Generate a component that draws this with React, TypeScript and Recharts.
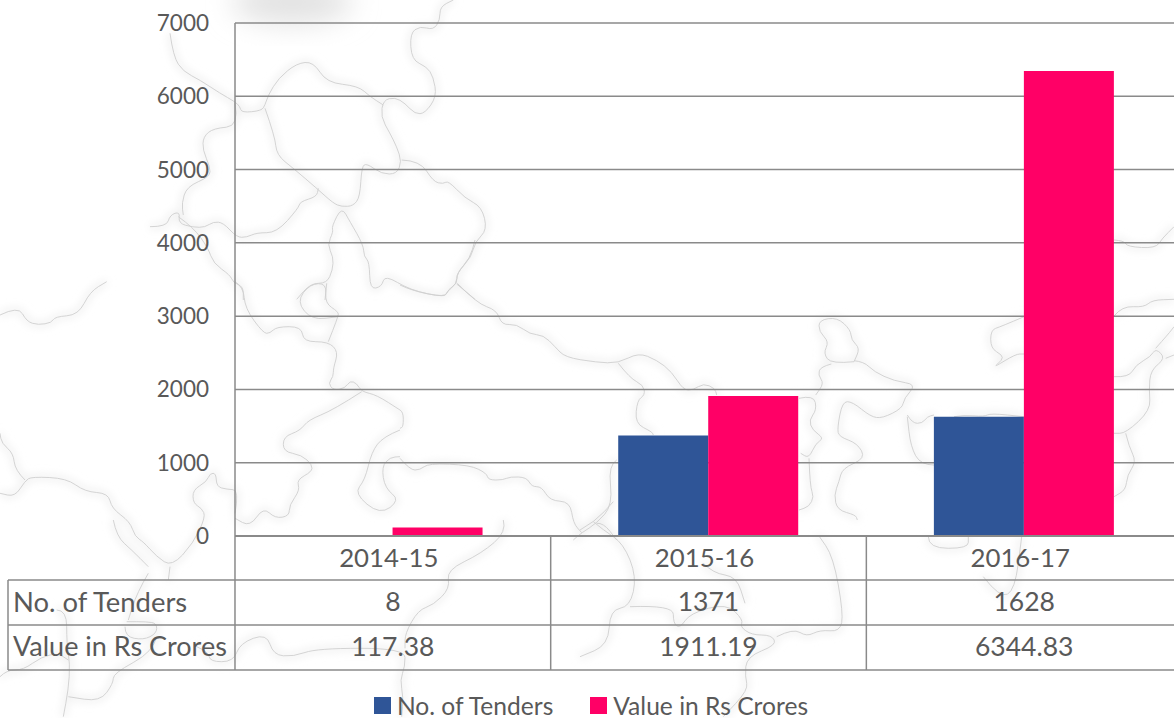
import React from "react";
import { BarChart, Bar, XAxis, YAxis, CartesianGrid, Legend } from "recharts";

const categories = ["2014-15", "2015-16", "2016-17"];
const tenders = [8, 1371, 1628];
const valueCrores = [117.38, 1911.19, 6344.83];
const valueLabels = ["117.38", "1911.19", "6344.83"];
const yTicks = [0, 1000, 2000, 3000, 4000, 5000, 6000, 7000];
const tendersName = "No. of Tenders";
const valueName = "Value in Rs Crores";

const chartData = categories.map((c, i) => ({ category: c, tenders: tenders[i], value: valueCrores[i], valueLabel: valueLabels[i] }));

const FONT = "Lato, Carlito, sans-serif";
const TEXT = "#595959";
const LINE = "#8a8a8a";
const BAND = 315.7;

// Decorative faint map behind the chart; traced in 3x crop coordinates.
const mapLayers: { ox: number; oy: number; lines: string[] }[] = [
  { ox: 150, oy: 0, lines: [
    "0,680 50,680 60,645 90,635 85,670 130,682 165,682 190,665 220,668 260,712 290,712 320,698 380,698 445,625 450,605 500,590 505,565",
    "60,100 70,170 100,215 150,240 210,280 255,305 270,320 275,338 335,332 345,315 355,285 385,235 440,190 490,185 530,248 625,258 660,290 700,315",
    "345,325 375,410 380,465 430,505 500,565 550,610 575,620 610,618 630,590 635,500 650,490 695,522 740,522 755,485 740,440 720,400 692,350 700,300 735,292 765,310 795,342 825,340 860,290 850,230 830,200 785,180 780,100 810,78 850,90 870,60 870,20 910,0",
    "755,480 810,482 850,545 880,552 895,542 945,595 995,620 1012,690 975,725 965,770 920,820 920,852 890,875 885,892 780,870 705,825 695,860 660,868 658,785 642,770 640,735 600,665 575,620 545,680 550,695 532,735 550,770 548,810 530,850 482,850 440,898",
    "255,310 268,378 190,385 160,410 158,450 180,500 180,530 110,560 95,610 100,645",
    "85,650 130,682 175,745 190,790 240,825 250,848 280,860 280,900",
    "920,852 975,898",
    "530,850 525,900",
  ] },
  { ox: 0, oy: 280, lines: [
    "0,105 55,78 80,125 115,135 155,128 165,110 235,105 270,35 320,5",
    "705,5 730,20 735,85 790,160 810,160 830,140 905,140 910,185 985,185 1015,215 1000,265 1000,290 985,310 1000,330 1035,325 1050,302 1070,310 1085,335 1130,345 1200,390",
    "985,185 1015,110 1015,95 975,70 980,10 930,12 890,65 935,120 1015,110",
    "1085,335 1000,390 925,420 900,452 850,470 850,515 905,525 937,555 935,575 890,600 900,630 868,675 868,708 825,715 790,682 750,740 705,715",
    "705,700 718,630 680,628 650,620 648,580 630,580 620,605 578,630 580,670 605,685 617,710 580,790 515,860 470,830 430,785 405,770 390,725 335,685 325,640 255,635 200,595 95,590 75,603 45,650 0,640",
    "75,600 45,570 40,520 5,490 0,460",
    "510,860 505,900",
    "1200,450 1150,470 1115,515 1095,600 1062,640 1140,705 1200,660 1155,625 1145,560 1170,532 1200,530",
  ] },
  { ox: 400, oy: 240, lines: [
    "0,135 35,152 135,172 145,148 172,130 170,100 210,55 225,0",
    "172,130 230,190 290,210 305,255 350,252 390,283 430,285 465,320 495,352 590,367 655,370 715,338 770,360 815,395 850,450 880,450 910,430 945,445 950,465",
    "655,370 690,415 730,435 735,465 712,480 705,550 755,575 760,585",
    "0,655 30,690 60,690 85,670 210,675 260,700 265,720 310,720 330,710 380,712 395,740 425,740 450,782 510,785 520,850 545,878",
    "650,660 625,675 638,795 590,850 545,878 520,900",
    "590,850 610,848 650,900",
    "0,510 10,515 10,560 0,565",
  ] },
  { ox: 774, oy: 220, lines: [
    "75,535 120,525 128,570 105,600 115,630 150,655 125,670 105,715 80,700",
    "105,715 108,800 120,830 105,860 75,870",
    "240,425 172,432 148,400 165,365 135,335 135,300 190,292 230,330 232,360 258,385 240,425",
    "172,432 140,440 132,465 150,490 125,525",
    "240,422 270,425 300,455 360,483 428,493 390,535 385,565 325,595 290,590 235,545 205,545 190,625 195,650 250,670 275,715 205,745 195,785 180,825 190,870 245,885 250,900",
    "400,585 415,610 445,610 460,590 480,585",
    "480,735 440,735 410,680 400,590",
    "540,590 570,585 630,590 650,580 750,590",
    "750,290 680,320 650,330 650,385 685,405 685,420 655,445 725,402 750,402",
    "1020,60 1050,62 1060,80 1145,85 1165,55 1200,20",
    "1020,288 1045,258 1110,262 1135,240 1200,238",
    "1020,470 1065,472 1085,435 1130,410 1145,385 1175,415 1130,450 1125,510 1130,570 1055,640 1020,640",
    "1145,385 1185,340 1200,320",
    "1175,415 1200,405",
    "1055,640 1065,680 1087,725 1060,765 1055,810 1020,830",
  ] },
  { ox: 0, oy: 520, lines: [
    "340,0 350,50 395,90 445,140",
    "445,160 410,220 385,300",
    "375,320 375,350 430,360 470,340 470,310 440,305 380,305",
    "170,270 200,270 200,370 210,430 205,510 190,590",
    "0,470 20,450 70,450 125,410 175,400 205,420",
    "590,380 625,395 630,425 700,425 720,370 800,340 820,405 880,410 950,385 1215,385 1215,440 1200,480 1210,530 1205,590",
    "1510,0 1520,35 1445,100 1340,150 1350,205 1300,255 1255,270 1215,340 1215,385",
    "470,350 460,395 340,460 340,490 300,545 205,530",
  ] },
  { ox: 580, oy: 380, lines: [
    "0,450 45,425 100,365",
    "40,425 70,450 130,490 170,590 150,680 90,690 85,795 0,830",
    "150,680 280,675 280,730 300,745 330,700 440,670 490,720 480,740 515,765 575,765 590,795 500,830 495,890 505,930 430,1010",
    "590,770 640,745 680,770 720,750 780,755 790,700 760,530 715,465",
    "370,550 400,580 470,590 495,670",
    "1045,470 1045,505 1165,505 1165,470",
    "1210,590 1260,655 1305,630 1325,470",
  ] },
];

function toPath(layer: { ox: number; oy: number }, s: string) {
  const pts = s.split(" ").map((p) => {
    const [x, y] = p.split(",").map(Number);
    return [layer.ox + x / 3, layer.oy + y / 3];
  });
  let d = `M${pts[0][0].toFixed(1)} ${pts[0][1].toFixed(1)}`;
  for (let i = 1; i < pts.length - 1; i++) {
    const mx = (pts[i][0] + pts[i + 1][0]) / 2;
    const my = (pts[i][1] + pts[i + 1][1]) / 2;
    d += ` Q${pts[i][0].toFixed(1)} ${pts[i][1].toFixed(1)} ${mx.toFixed(1)} ${my.toFixed(1)}`;
  }
  const last = pts[pts.length - 1];
  d += ` L${last[0].toFixed(1)} ${last[1].toFixed(1)}`;
  return d;
}

function MapBackdrop() {
  return (
    <svg width={1174} height={718} style={{ position: "absolute", left: 0, top: 0 }}>
      <defs>
        <filter id="halo" x="-10%" y="-10%" width="120%" height="120%"><feGaussianBlur stdDeviation="4" /></filter>
        <filter id="cloud" x="-50%" y="-50%" width="200%" height="200%"><feGaussianBlur stdDeviation="14" /></filter>
      </defs>
      <ellipse cx={292} cy={2} rx={60} ry={22} fill="#e2e2e2" filter="url(#cloud)" />
      <g filter="url(#halo)" fill="none" stroke="#eeeeee" strokeWidth={5}>
        {mapLayers.flatMap((l, i) => l.lines.map((s, j) => <path key={`h${i}-${j}`} d={toPath(l, s)} />))}
      </g>
      <g fill="none" stroke="#cfcfcf" strokeWidth={0.9} strokeLinejoin="round">
        {mapLayers.flatMap((l, i) => l.lines.map((s, j) => <path key={`l${i}-${j}`} d={toPath(l, s)} />))}
      </g>
    </svg>
  );
}

function TableTick(props: any) {
  const { x, index, payload } = props;
  const row = chartData[index];
  const left = x - BAND / 2;
  const right = x + BAND / 2;
  const textProps = { fontFamily: FONT, fontSize: 26.5, fill: TEXT, textAnchor: "middle" as const, dominantBaseline: "central" as const };
  return (
    <g>
      <line x1={right} x2={right} y1={536} y2={670} stroke={LINE} strokeWidth={1.5} />
      <text x={x - 4} y={557} {...textProps} fontSize={25.8}>{payload.value}</text>
      <text x={x} y={601} {...textProps}>{row.tenders}</text>
      <text x={x} y={646} {...textProps}>{row.valueLabel}</text>
      {index === 0 && (
        <g>
          <line x1={left} x2={left} y1={536} y2={670} stroke={LINE} strokeWidth={1.5} />
          <line x1={8} x2={8} y1={580} y2={670} stroke={LINE} strokeWidth={1.5} />
          {[580, 625, 670].map((y) => <line key={y} x1={8} x2={1182} y1={y} y2={y} stroke={LINE} strokeWidth={1.5} />)}
          <text x={13} y={601} {...textProps} fontSize={27.4} textAnchor="start">{tendersName}</text>
          <text x={13} y={645} {...textProps} fontSize={27} textAnchor="start">{valueName}</text>
        </g>
      )}
    </g>
  );
}

function LegendContent({ payload }: any) {
  return (
    <div style={{ display: "flex", justifyContent: "center", alignItems: "center", gap: 37, height: 48, paddingTop: 23, boxSizing: "border-box", fontFamily: FONT, fontSize: 24.6, color: TEXT, lineHeight: "25px" }}>
      {(payload || []).map((e: any) => (
        <div key={e.value} style={{ display: "flex", alignItems: "center", gap: 6 }}>
          <span style={{ width: 17, height: 17, background: e.color, display: "inline-block" }} />
          <span>{e.value}</span>
        </div>
      ))}
    </div>
  );
}

export default function App() {
  return (
    <div style={{ position: "fixed", left: 0, top: 0, width: 1174, height: 718, overflow: "hidden", background: "#fff" }}>
      <MapBackdrop />
      <div style={{ position: "absolute", left: 0, top: 0 }}>
        <BarChart
          width={1182}
          height={718}
          data={chartData}
          margin={{ top: 23, right: 0, bottom: 0, left: 175 }}
          barCategoryGap="21.4%"
          barGap={0}
        >
          <CartesianGrid vertical={false} stroke={LINE} strokeWidth={1.5} />
          <XAxis
            dataKey="category"
            height={134}
            interval={0}
            tickLine={false}
            tickSize={0}
            tick={TableTick}
            axisLine={{ stroke: LINE, strokeWidth: 2 }}
          />
          <YAxis
            width={60}
            domain={[0, 7000]}
            ticks={yTicks}
            interval={0}
            tickLine={false}
            tickSize={0}
            tickMargin={26}
            axisLine={{ stroke: LINE, strokeWidth: 1.5 }}
            tick={{ fontFamily: FONT, fontSize: 22.5, fill: TEXT }}
          />
          <Legend height={48} width={1182} wrapperStyle={{ left: 0, width: 1182 }} content={LegendContent} />
          <Bar dataKey="tenders" name={tendersName} fill="#2F5597" isAnimationActive={false} />
          <Bar dataKey="value" name={valueName} fill="#FF0066" isAnimationActive={false} />
        </BarChart>
      </div>
    </div>
  );
}
